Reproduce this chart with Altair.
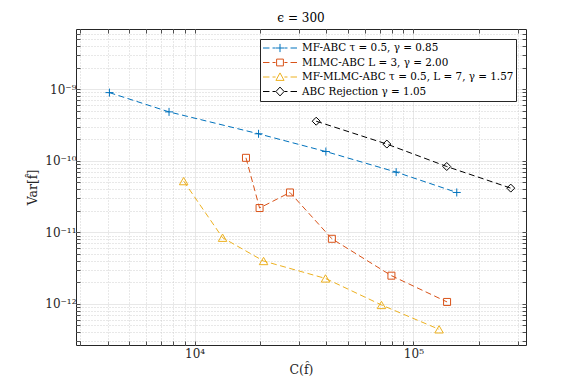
import altair as alt
import pandas as pd

# ---------------- data ----------------
series_names = [
    "MF-ABC τ = 0.5, γ = 0.85",
    "MLMC-ABC L = 3, γ = 2.00",
    "MF-MLMC-ABC τ = 0.5, L = 7, γ = 1.57",
    "ABC Rejection γ = 1.05",
]
series_colors = ["#0072BD", "#D95319", "#EDB120", "#000000"]

mf_cost = [4080, 7640, 19600, 39800, 83400, 157800]
mf_var = [8.96e-10, 4.82e-10, 2.38e-10, 1.344e-10, 6.93e-11, 3.6e-11]

mlmc_cost = [17170, 19810, 27270, 42400, 79350, 142500]
mlmc_var = [1.098e-10, 2.18e-11, 3.6e-11, 8.1e-12, 2.47e-12, 1.06e-12]

mfmlmc_cost = [8910, 13420, 20660, 39640, 71440, 131000]
mfmlmc_var = [5.19e-11, 8.38e-12, 3.96e-12, 2.26e-12, 9.62e-13, 4.39e-13]

rej_cost = [35950, 75600, 142000, 278500]
rej_var = [3.57e-10, 1.71e-10, 8.3e-11, 4.14e-11]

costs = [mf_cost, mlmc_cost, mfmlmc_cost, rej_cost]
variances = [mf_var, mlmc_var, mfmlmc_var, rej_var]

x_ticks = [3000, 4000, 5000, 6000, 7000, 8000, 9000,
           10000, 20000, 30000, 40000, 50000, 60000, 70000, 80000, 90000,
           100000, 200000, 300000]
y_mantissas = [1, 2, 3, 4, 5, 6, 7, 8, 9]
y_decades = [-13, -12, -11, -10, -9]
y_ticks = [float(f"{m}e{d}") for d in y_decades for m in y_mantissas
           if 2.65e-13 <= float(f"{m}e{d}") <= 6.95e-9]
x_tick_labels = [(4, "10⁴"), (5, "10⁵")]
y_tick_labels = [(-9, "10⁻⁹"), (-10, "10⁻¹⁰"), (-11, "10⁻¹¹"), (-12, "10⁻¹²")]

x_domain = [2870, 327000]
y_domain = [2.65e-13, 6.95e-9]

# ---------------- styles ----------------
marker_shapes = ["M-1,0H1M0,-1V1", "square", "triangle-up", "diamond"]
marker_sizes = [64, 49, 72, 64]
dash_path = "M-1,0H-0.62M-0.44,0H-0.26M0.26,0H0.44M0.62,0H1"
legend_paths = [
    dash_path + "M-0.24,0H0.24M0,-0.24V0.24",
    dash_path + "M-0.2,-0.2H0.2V0.2H-0.2Z",
    dash_path + "M0,-0.24L0.24,0.2H-0.24Z",
    dash_path + "M0,-0.26L0.24,0L0,0.26L-0.24,0Z",
]

SERIF = "DejaVu Serif"
INK = "#262626"

rows = []
for name, cs, vs in zip(series_names, costs, variances):
    for c, v in zip(cs, vs):
        rows.append({"series": name, "cost": c, "variance": v})
df = pd.DataFrame(rows)

E = "round(log(datum.value)/LN10)"
NEAR = f"abs(log(datum.value)/LN10 - {E}) < 1e-6"


def label_expr(mapping):
    expr = "''"
    for k, txt in reversed(mapping):
        expr = f"({E} == {k}) ? '{txt}' : {expr}"
    return f"({NEAR}) ? ({expr}) : ''"


grid_color = {"condition": {"test": NEAR, "value": "#dcdcdc"}, "value": "#c4c4c4"}
grid_dash = {"condition": {"test": NEAR, "value": [1, 0]}, "value": [1, 2]}

common = dict(domain=False, offset=-4, tickSize=4, tickColor=INK, tickWidth=0.8,
              labelFont=SERIF, labelFontSize=12, labelColor=INK,
              titleFont=SERIF, titleFontSize=12.5, titleFontWeight="normal",
              titleColor=INK, labelOverlap=False, labelFlush=False)

x_axis_main = alt.Axis(orient="bottom", values=x_ticks, labelExpr=label_expr(x_tick_labels),
                       grid=True, gridColor=grid_color, gridDash=grid_dash, gridWidth=0.8,
                       labelPadding=3, title="C(f̂)", titlePadding=4, **common)
y_axis_main = alt.Axis(orient="left", values=y_ticks, labelExpr=label_expr(y_tick_labels),
                       grid=True, gridColor=grid_color, gridDash=grid_dash, gridWidth=0.8,
                       labelPadding=0, title="Var[f̂]", titlePadding=5, **common)
x_axis_top = alt.Axis(orient="top", values=x_ticks, labels=False, grid=False, title=None, **common)
y_axis_right = alt.Axis(orient="right", values=y_ticks, labels=False, grid=False, title=None, **common)

xs = alt.Scale(type="log", domain=x_domain, nice=False)
ys = alt.Scale(type="log", domain=y_domain, nice=False)

layers = []
for i, (name, col) in enumerate(zip(series_names, series_colors)):
    xa = x_axis_main if i == 0 else None
    ya = y_axis_main if i == 0 else None
    base = alt.Chart(df).transform_filter(alt.datum.series == name)
    line = base.mark_line(color=col, strokeWidth=1, strokeDash=[6, 3.5]).encode(
        x=alt.X("cost:Q", scale=xs, axis=xa),
        y=alt.Y("variance:Q", scale=ys, axis=ya),
    )
    layers.append(line)

frame = alt.Chart(df).mark_point(opacity=0).encode(
    x=alt.X("cost:Q", scale=xs, axis=x_axis_top),
    y=alt.Y("variance:Q", scale=ys, axis=y_axis_right),
)
layers.append(frame)

for name, col, shp, sz in zip(series_names, series_colors, marker_shapes, marker_sizes):
    pts = alt.Chart(df).transform_filter(alt.datum.series == name).mark_point(
        shape=shp, size=sz, filled=False, color=col, strokeWidth=1, opacity=1
    ).encode(
        x=alt.X("cost:Q", scale=xs, axis=None),
        y=alt.Y("variance:Q", scale=ys, axis=None),
    )
    layers.append(pts)

legend_kw = dict(title=None, orient="top-right", offset=10, symbolSize=1156, clipHeight=13,
                 rowPadding=1.5, padding=2.5, labelOffset=4.5, fillColor="white",
                 strokeColor=INK, labelFont=SERIF, labelFontSize=10.4, labelColor="black",
                 symbolStrokeWidth=1, labelLimit=400)

legend_layer = alt.Chart(pd.DataFrame({"series": series_names})).transform_filter("false").mark_point(
    filled=False, opacity=1, size=1156, strokeWidth=1
).encode(
    color=alt.Color("series:N", scale=alt.Scale(domain=series_names, range=series_colors),
                    legend=alt.Legend(**legend_kw)),
    shape=alt.Shape("series:N", scale=alt.Scale(domain=series_names, range=legend_paths),
                    legend=alt.Legend(**legend_kw)),
)
layers.append(legend_layer)

chart = alt.layer(*layers).resolve_axis(x="independent", y="independent").properties(
    width=450, height=316,
    padding={"left": 68, "top": 21, "right": 47, "bottom": 35},
    autosize=alt.AutoSizeParams(type="none"),
    title=alt.TitleParams("ϵ = 300", font=SERIF, fontSize=12, fontWeight="normal",
                          color="black", offset=3, anchor="middle"),
).configure_view(stroke=INK, strokeWidth=1)

chart.save("out.html", embed_options={"renderer": "svg", "actions": False})
